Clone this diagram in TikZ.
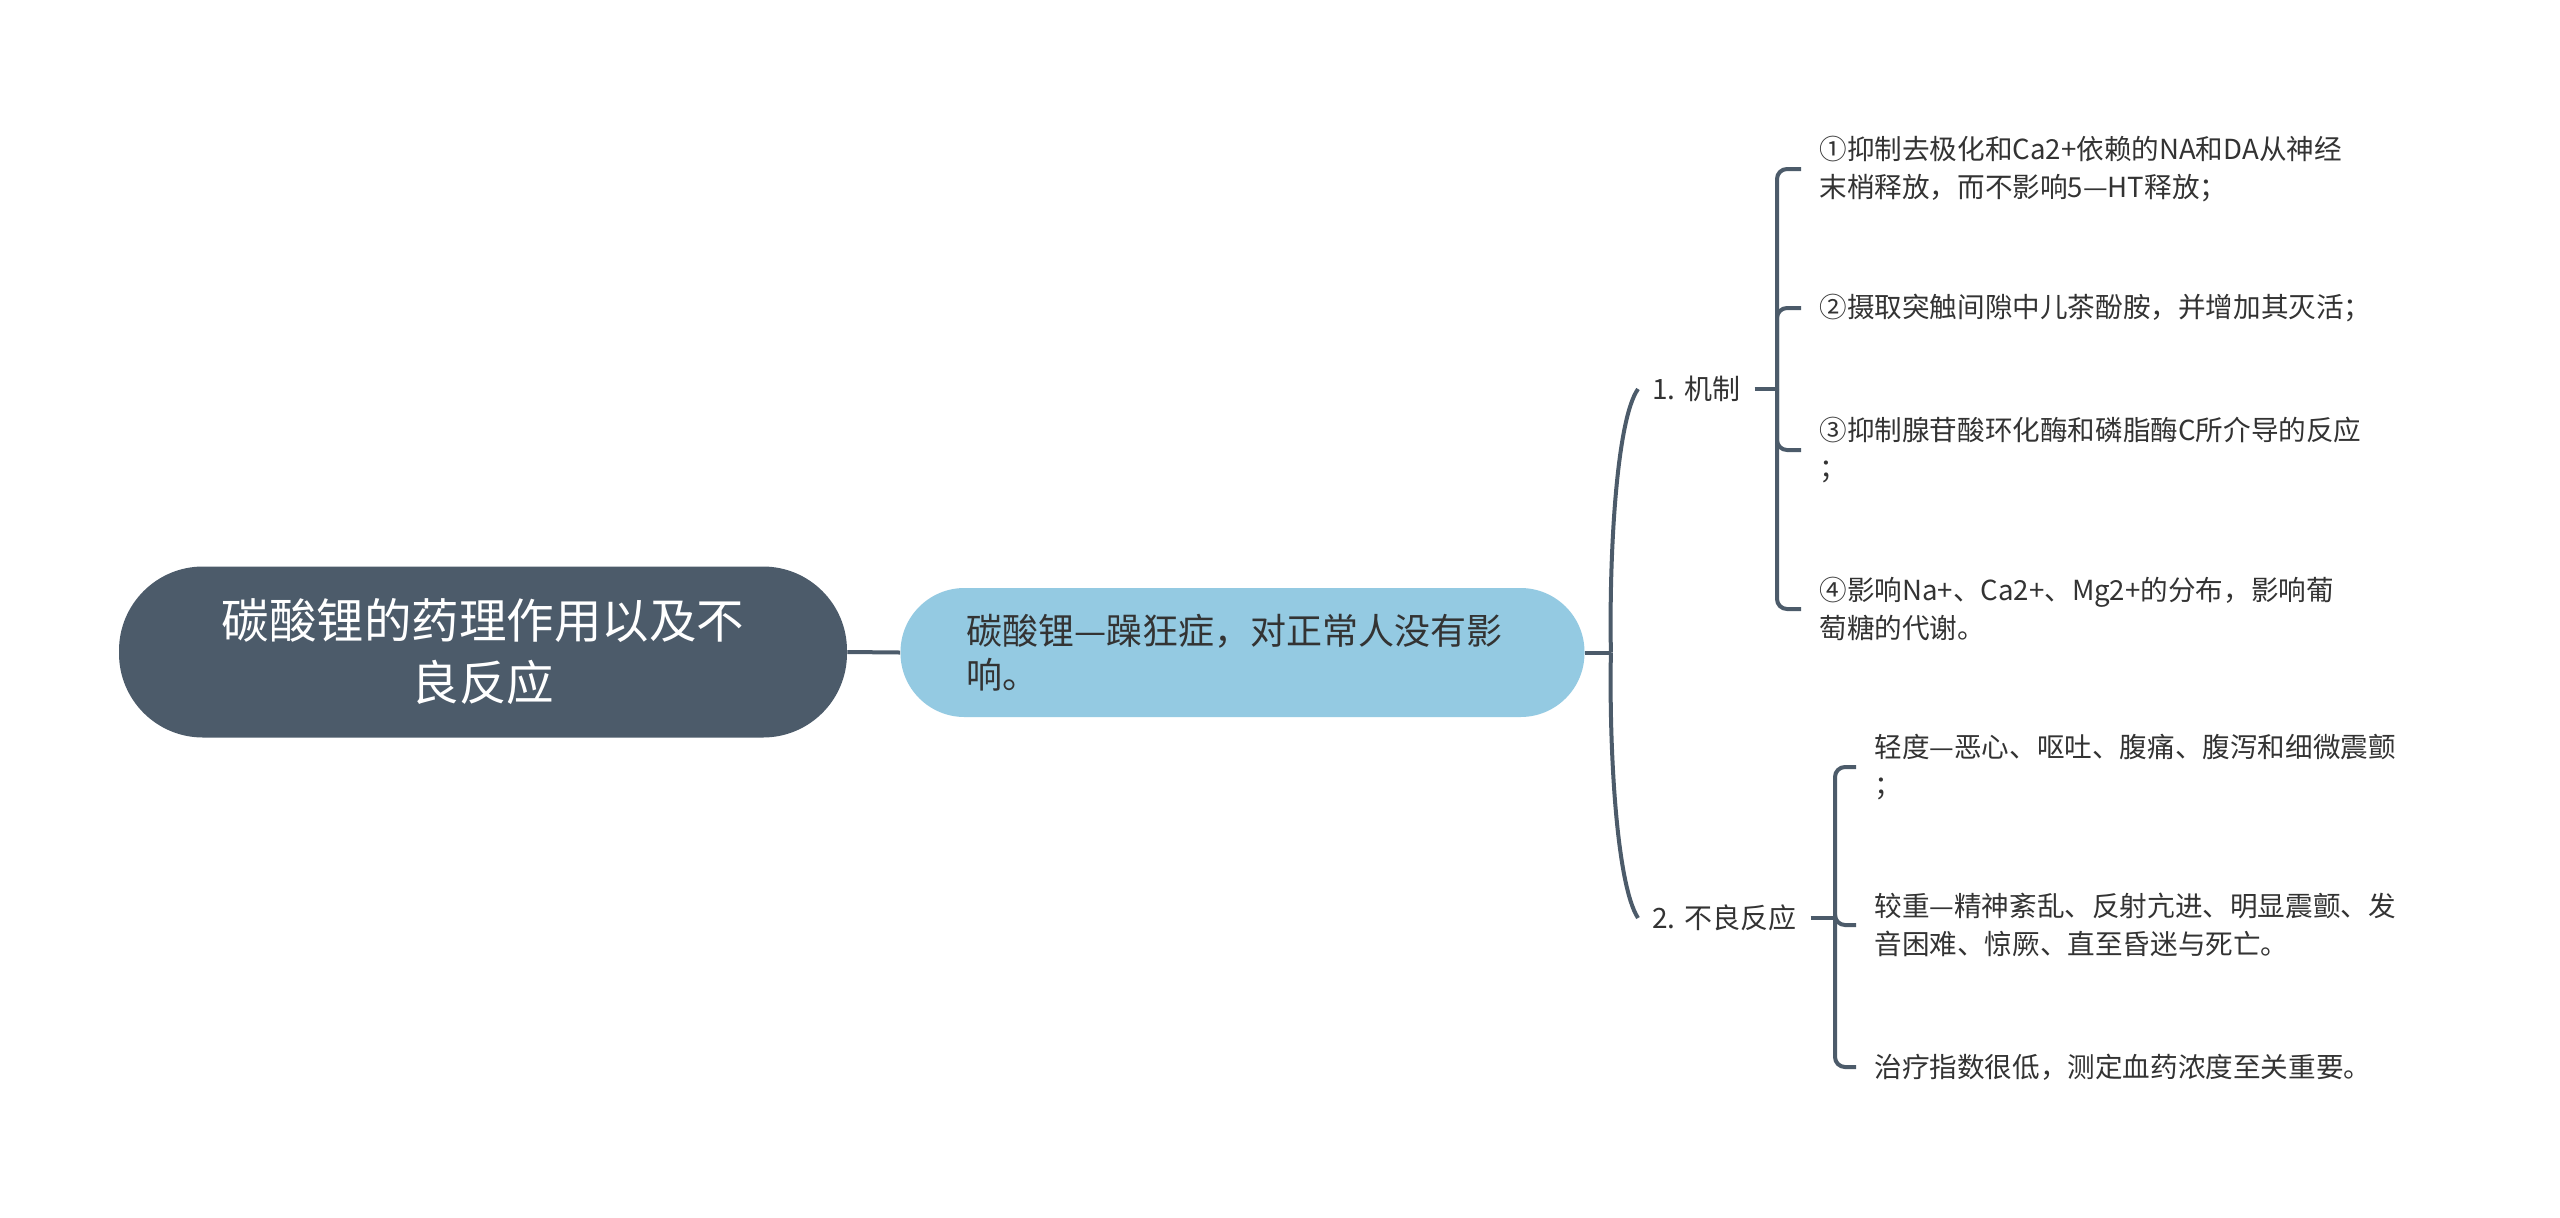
\documentclass[tikz,border=0pt]{standalone}
\usepackage{fontspec}
\setmainfont{Noto Sans CJK SC}
\definecolor{mmslate}{HTML}{4C5B6A}
\definecolor{mmsky}{HTML}{94CAE2}
\definecolor{mmtext}{HTML}{333333}

\begin{document}
\begin{tikzpicture}[x=0.5pt,y=-0.5pt,
  rootbox/.style={fill=mmslate,text=white,rounded corners=42pt,minimum width=364pt,minimum height=85.5pt,align=center,font=\fontsize{23.75}{31}\selectfont},
  topicbox/.style={fill=mmsky,text=mmtext,rounded corners=32pt,minimum height=64.5pt,inner xsep=33pt,text width=276pt,align=left,font=\fontsize{18}{22}\selectfont},
  branchlbl/.style={text=mmtext,inner xsep=7pt,anchor=west,font=\fontsize{14}{18}\selectfont},
  leaf/.style={text=mmtext,inner xsep=9pt,anchor=west,align=left,font=\fontsize{13.8}{18.8}\selectfont},
  link/.style={draw=mmslate,line width=2pt}]
  \fill[white] (0,0) rectangle (2560,1217);
  \useasboundingbox (0,0) rectangle (2560,1217);
  % Root and main topic
  \node[rootbox] (root) at (483,652) {碳酸锂的药理作用以及不\\良反应};
  \node[topicbox] (topic) at (1242.5,652.5) {碳酸锂—躁狂症，对正常人没有影\\响。};
  % Branches
  \node[branchlbl] (mech) at (1638,389) {1. 机制};
  \node[branchlbl] (adv) at (1638,918) {2. 不良反应};
  % Leaves
  \node[leaf] (m1) at (1801,169) {①抑制去极化和Ca2+依赖的NA和DA从神经\\末梢释放，而不影响5—HT释放；};
  \node[leaf] (m2) at (1801,308) {②摄取突触间隙中儿茶酚胺，并增加其灭活；};
  \node[leaf] (m3) at (1801,450) {③抑制腺苷酸环化酶和磷脂酶C所介导的反应\\；};
  \node[leaf] (m4) at (1801,609) {④影响Na+、Ca2+、Mg2+的分布，影响葡\\萄糖的代谢。};
  \node[leaf] (a1) at (1856,767) {轻度—恶心、呕吐、腹痛、腹泻和细微震颤\\；};
  \node[leaf] (a2) at (1856,925) {较重—精神紊乱、反射亢进、明显震颤、发\\音困难、惊厥、直至昏迷与死亡。};
  \node[leaf] (a3) at (1856,1067) {治疗指数很低，测定血药浓度至关重要。};
  % Connectors
  \draw[link] (root.east) -- (topic.west);
  \draw[link] (topic.east) -- ++(26,0) coordinate (fork);
  \draw[link] (fork) .. controls (1609,560) and (1616,420) .. (mech.west);
  \draw[link] (fork) .. controls (1609,744) and (1616,884) .. (adv.west);
  \coordinate (mfork) at (1777,389);
  \coordinate (afork) at (1835,918);
  \draw[link] (mech.east) -- (mfork);
  \draw[link] (adv.east) -- (afork);
  \foreach \n in {m1,m2,m3,m4} \draw[link,rounded corners=5pt] (mfork) |- (\n.west);
  \foreach \n in {a1,a2,a3} \draw[link,rounded corners=5pt] (afork) |- (\n.west);
\end{tikzpicture}
\end{document}
